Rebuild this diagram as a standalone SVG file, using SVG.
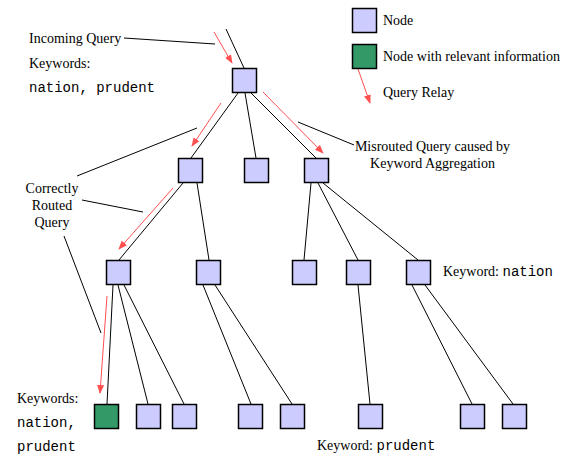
<svg xmlns="http://www.w3.org/2000/svg" width="572" height="474" viewBox="0 0 572 474">
<style>
.n{fill:#ccccff;stroke:#000;stroke-width:1.5}
.g{fill:#339966;stroke:#000;stroke-width:1.5}
.l{stroke:#000;stroke-width:1;fill:none}
.r{stroke:#ff5050;stroke-width:1;fill:none}
.t{font-family:"Liberation Serif","Times New Roman",serif;font-size:14px;fill:#000}
.m{font-family:"Liberation Mono","Courier New",monospace;font-size:14px;fill:#000}
</style>
<defs>
<marker id="ah" markerUnits="userSpaceOnUse" markerWidth="9" markerHeight="7" refX="8" refY="3.5" orient="auto">
<path d="M0,0 L9,3.5 L0,7 Z" fill="#ff5050"/>
</marker>
</defs>
<rect width="572" height="474" fill="#fff"/>
<g id="connectors">
<line class="l" x1="226" y1="29" x2="244" y2="68"/>
<line class="l" x1="238" y1="93" x2="191" y2="158"/>
<line class="l" x1="245" y1="93" x2="256" y2="158"/>
<line class="l" x1="251" y1="93" x2="316" y2="158"/>
<line class="l" x1="183" y1="183" x2="119" y2="260"/>
<line class="l" x1="197" y1="183" x2="209" y2="260"/>
<line class="l" x1="311" y1="183" x2="304" y2="260"/>
<line class="l" x1="318" y1="183" x2="358" y2="260"/>
<line class="l" x1="323" y1="183" x2="418" y2="260"/>
<line class="l" x1="113" y1="285" x2="107" y2="404"/>
<line class="l" x1="118" y1="285" x2="148" y2="404"/>
<line class="l" x1="124" y1="285" x2="184" y2="404"/>
<line class="l" x1="203" y1="285" x2="251" y2="404"/>
<line class="l" x1="215" y1="285" x2="292" y2="404"/>
<line class="l" x1="358" y1="285" x2="370" y2="404"/>
<line class="l" x1="412" y1="285" x2="472" y2="404"/>
<line class="l" x1="425" y1="285" x2="513" y2="404"/>
<line class="r" x1="214" y1="32" x2="232" y2="63" marker-end="url(#ah)"/>
<line class="r" x1="221" y1="103" x2="192" y2="146" marker-end="url(#ah)"/>
<line class="r" x1="263" y1="92" x2="323" y2="153" marker-end="url(#ah)"/>
<line class="r" x1="173" y1="188" x2="119" y2="249" marker-end="url(#ah)"/>
<line class="r" x1="107" y1="296" x2="100" y2="393" marker-end="url(#ah)"/>
<line class="r" x1="352" y1="52" x2="370" y2="103" marker-end="url(#ah)"/>
<line class="l" x1="124" y1="38" x2="215" y2="44"/>
<line class="l" x1="298" y1="122" x2="354" y2="145"/>
<line class="l" x1="77" y1="176" x2="197" y2="128"/>
<line class="l" x1="82" y1="200" x2="143" y2="212"/>
<line class="l" x1="64" y1="236" x2="101" y2="333"/>
</g>
<g id="root"><rect class="n" x="232.5" y="68.5" width="24" height="24"/></g>
<g id="n1a"><rect class="n" x="178.5" y="158.5" width="24" height="24"/></g>
<g id="n1b"><rect class="n" x="244.5" y="158.5" width="24" height="24"/></g>
<g id="n1c"><rect class="n" x="304.5" y="158.5" width="24" height="24"/></g>
<g id="n2a"><rect class="n" x="106.5" y="260.5" width="24" height="24"/></g>
<g id="n2b"><rect class="n" x="196.5" y="260.5" width="24" height="24"/></g>
<g id="n2c"><rect class="n" x="292.5" y="260.5" width="24" height="24"/></g>
<g id="n2d"><rect class="n" x="346.5" y="260.5" width="24" height="24"/></g>
<g id="n2e"><rect class="n" x="406.5" y="260.5" width="24" height="24"/></g>
<g id="n3a"><rect class="g" x="94.5" y="404.5" width="24" height="24"/></g>
<g id="n3b"><rect class="n" x="136.5" y="404.5" width="24" height="24"/></g>
<g id="n3c"><rect class="n" x="172.5" y="404.5" width="24" height="24"/></g>
<g id="n3d"><rect class="n" x="238.5" y="404.5" width="24" height="24"/></g>
<g id="n3e"><rect class="n" x="280.5" y="404.5" width="24" height="24"/></g>
<g id="n3f"><rect class="n" x="358.5" y="404.5" width="24" height="24"/></g>
<g id="n3g"><rect class="n" x="460.5" y="404.5" width="24" height="24"/></g>
<g id="n3h"><rect class="n" x="502.5" y="404.5" width="24" height="24"/></g>
<g id="legend">
<rect class="n" x="352.5" y="8.5" width="24" height="24"/>
<rect class="g" x="352.5" y="44.5" width="24" height="24"/>
<text class="t" x="383" y="25">Node</text>
<text class="t" x="383" y="61">Node with relevant information</text>
<text class="t" x="383" y="97">Query Relay</text>
</g>
<g id="labels">
<text class="t" x="29" y="43">Incoming Query</text>
<text class="t" x="29" y="68">Keywords:</text>
<text class="m" x="29" y="92">nation, prudent</text>
<text class="t" x="432.5" y="151" text-anchor="middle">Misrouted Query caused by</text>
<text class="t" x="432.5" y="168" text-anchor="middle">Keyword Aggregation</text>
<text class="t" x="52" y="193" text-anchor="middle">Correctly</text>
<text class="t" x="52" y="210" text-anchor="middle">Routed</text>
<text class="t" x="52" y="227" text-anchor="middle">Query</text>
<text class="t" x="443" y="276">Keyword: <tspan class="m">nation</tspan></text>
<text class="t" x="17" y="403">Keywords:</text>
<text class="m" x="17" y="427">nation,</text>
<text class="m" x="17" y="451">prudent</text>
<text class="t" x="317" y="450">Keyword: <tspan class="m">prudent</tspan></text>
</g>
</svg>
